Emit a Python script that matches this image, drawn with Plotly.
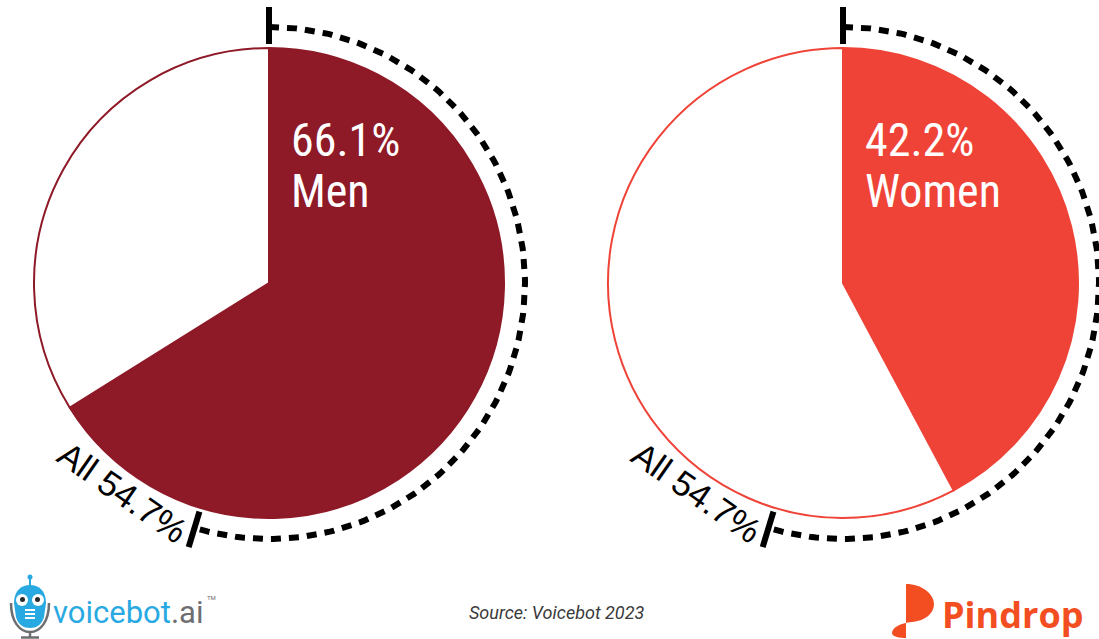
import numpy as np
import plotly.graph_objects as go

# Share of respondents, by gender, and the overall figure
groups = ["Men", "Women"]
group_share = [66.1, 42.2]
overall_share = 54.7
group_colors = ["#8E1927", "#EF4338"]
source_note = "Source: Voicebot 2023"

W, H = 1099, 639
centers = [(269, 283), (843, 283)]
pie_r = 235
arc_r = 256

fig = go.Figure()

# Pies: the coloured slice runs clockwise from 12 o'clock
for (cx, cy), name, share, col in zip(centers, groups, group_share, group_colors):
    fig.add_trace(go.Pie(
        values=[share, 100 - share],
        labels=[name, "Other"],
        marker=dict(colors=[col, "#FFFFFF"], line=dict(color=col, width=2)),
        sort=False, direction="clockwise", rotation=0,
        textinfo="none", hoverinfo="skip", showlegend=False,
        domain=dict(x=[(cx - pie_r) / W, (cx + pie_r) / W],
                    y=[(H - cy - pie_r) / H, (H - cy + pie_r) / H]),
    ))


def polar(cx, cy, r, deg):
    a = np.radians(deg)
    return cx + r * np.sin(a), cy - r * np.cos(a)


annotations = []
end_deg = overall_share / 100 * 360
for (cx, cy), name, share in zip(centers, groups, group_share):
    # dashed arc for the overall share
    angles = np.linspace(0, end_deg, 200)
    ax, ay = polar(cx, cy, arc_r, angles)
    fig.add_trace(go.Scatter(x=ax, y=ay, mode="lines",
                             line=dict(color="#000000", width=6, dash="10px,8px"),
                             hoverinfo="skip", showlegend=False))
    # start and end ticks
    for deg in (0, end_deg):
        tx, ty = polar(cx, cy, np.array([239, 276]), deg)
        fig.add_trace(go.Scatter(x=tx, y=ty, mode="lines",
                                 line=dict(color="#000000", width=6),
                                 hoverinfo="skip", showlegend=False))
    # label for the overall share, set along the circle
    lab_deg = end_deg + 18
    lx, ly = polar(cx, cy, arc_r - 1, lab_deg)
    annotations.append(dict(
        x=lx, y=ly, xref="x", yref="y", showarrow=False,
        text=f"All {overall_share}%", textangle=lab_deg - 180,
        font=dict(family="Liberation Sans, Arial, sans-serif", size=35, color="#000000"),
        xanchor="center", yanchor="middle"))
    # value and group name inside the slice
    annotations.append(dict(
        x=cx + 20, y=140, xref="x", yref="y", showarrow=False,
        text=f"{share}%", xanchor="left", yanchor="middle",
        font=dict(family="Liberation Sans Narrow, Roboto Condensed, Roboto", size=46, color="#FFFFFF")))
    annotations.append(dict(
        x=cx + 20, y=191, xref="x", yref="y", showarrow=False,
        text=name, xanchor="left", yanchor="middle",
        font=dict(family="Liberation Sans Narrow, Roboto Condensed, Roboto", size=46, color="#FFFFFF")))

# source line
annotations.append(dict(
    x=556, y=612, xref="x", yref="y", showarrow=False, text=source_note,
    xanchor="center", yanchor="middle",
    font=dict(family="Roboto", size=18, color="#3A3A3A", style="italic")))

# voicebot.ai wordmark
VB_BLUE, VB_GRAY = "#29A9E1", "#6D6E71"
annotations.append(dict(
    x=51, y=612, xref="x", yref="y", showarrow=False,
    text=f"voicebot<span style='color:{VB_GRAY}'>.ai</span>",
    xanchor="left", yanchor="middle",
    font=dict(family="Roboto", size=31, color=VB_BLUE)))
annotations.append(dict(
    x=205, y=597, xref="x", yref="y", showarrow=False, text="TM",
    xanchor="left", yanchor="middle",
    font=dict(family="Roboto", size=6, color=VB_GRAY)))

# Pindrop wordmark
PD_ORANGE = "#F24E22"
annotations.append(dict(
    x=940, y=614, xref="x", yref="y", showarrow=False, text="Pindrop",
    xanchor="left", yanchor="middle",
    font=dict(family="Open Sans", size=36, color=PD_ORANGE, weight=700)))

shapes = [
    # voicebot robot icon
    dict(type="path", xref="x", yref="y",
         path="M 11,603 C 11,622 20,632 30,632 C 40,632 49,622 49,603",
         line=dict(color=VB_GRAY, width=2.5)),
    dict(type="line", xref="x", yref="y", x0=30, y0=631, x1=30, y1=637,
         line=dict(color=VB_GRAY, width=2.5)),
    dict(type="line", xref="x", yref="y", x0=21, y0=637.5, x1=39, y1=637.5,
         line=dict(color=VB_GRAY, width=2.5)),
    dict(type="line", xref="x", yref="y", x0=30, y0=578, x1=30, y1=586,
         line=dict(color=VB_BLUE, width=2)),
    dict(type="circle", xref="x", yref="y", x0=27.5, y0=574.5, x1=32.5, y1=579.5,
         fillcolor=VB_BLUE, line=dict(width=0)),
    dict(type="path", xref="x", yref="y",
         path="M 14,603 C 14,590 22,585 30,585 C 38,585 46,590 46,603 "
              "L 44,617 C 42,625 36,628 30,628 C 24,628 18,625 16,617 Z",
         fillcolor=VB_BLUE, line=dict(width=0)),
    dict(type="circle", xref="x", yref="y", x0=16, y0=594, x1=28, y1=606,
         fillcolor="#FFFFFF", line=dict(width=0)),
    dict(type="circle", xref="x", yref="y", x0=32, y0=594, x1=44, y1=606,
         fillcolor="#FFFFFF", line=dict(width=0)),
    dict(type="circle", xref="x", yref="y", x0=20, y0=597, x1=25, y1=602,
         fillcolor="#2B2B2B", line=dict(width=0)),
    dict(type="circle", xref="x", yref="y", x0=35, y0=597, x1=40, y1=602,
         fillcolor="#2B2B2B", line=dict(width=0)),
]
for yy in (610, 614, 618):
    shapes.append(dict(type="line", xref="x", yref="y", x0=25, y0=yy, x1=35, y1=yy,
                       line=dict(color="#FFFFFF", width=2)))
# Pindrop icon
shapes.append(dict(type="path", xref="x", yref="y",
                   path="M 906,584 C 922,584 934,594 934,604 C 934,614 924,621 912,622 "
                        "C 900,623 892,628 892,633 C 892,637 900,638 906,638 Z",
                   fillcolor=PD_ORANGE, line=dict(width=0)))

fig.update_layout(
    width=W, height=H,
    margin=dict(l=0, r=0, t=0, b=0),
    paper_bgcolor="#FFFFFF", plot_bgcolor="rgba(0,0,0,0)",
    xaxis=dict(range=[0, W], visible=False, fixedrange=True),
    yaxis=dict(range=[H, 0], visible=False, fixedrange=True),
    annotations=annotations, shapes=shapes,
    showlegend=False,
)

fig.write_html("out.html")
